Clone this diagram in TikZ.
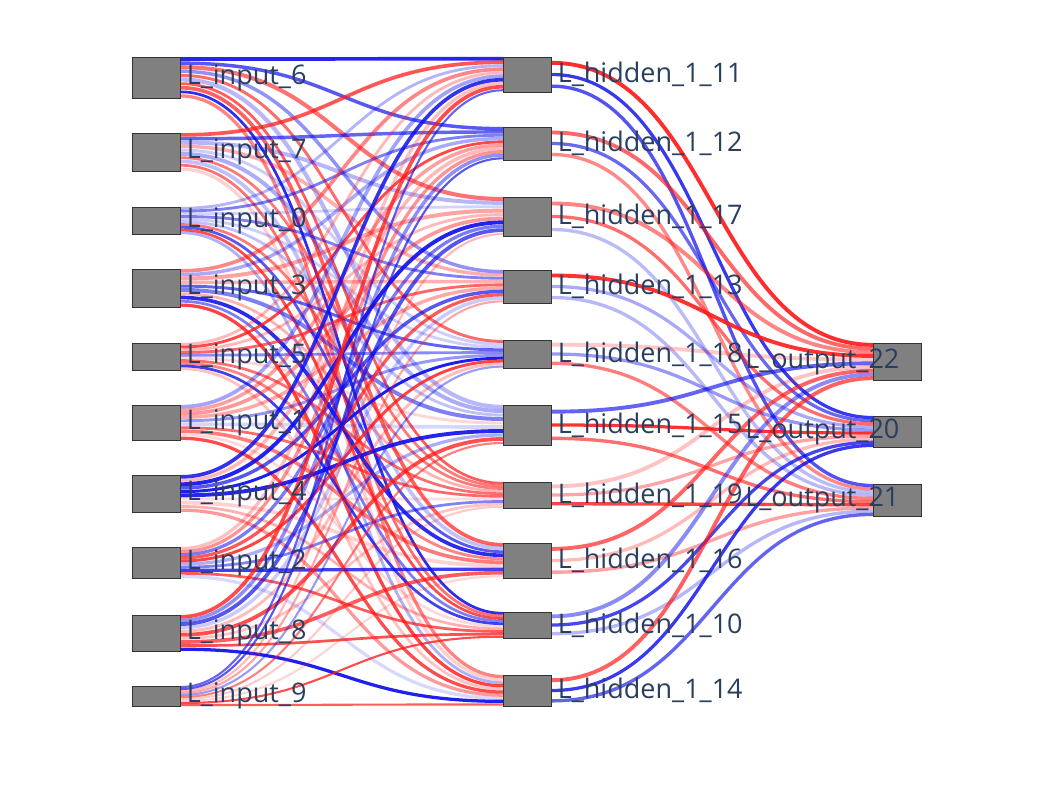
\documentclass[tikz,border=0pt]{standalone}
\usepackage{fontspec}
\setmainfont{Open Sans}
\definecolor{linkred}{RGB}{255,25,25}
\definecolor{linkblue}{RGB}{15,15,235}
\definecolor{lbl}{RGB}{42,63,95}
\definecolor{nodegray}{RGB}{128,128,128}
\pgfdeclarelayer{bg}
\pgfsetlayers{bg,main}
\begin{document}
\begin{tikzpicture}[x=1pt,y=-1pt,
  snode/.style={draw=black!80,line width=0.6pt,fill=nodegray,minimum width=48pt,inner sep=0pt,anchor=north west,rectangle},
  slabel/.style={anchor=west,text=lbl,font=\fontsize{27}{29}\selectfont,inner sep=0pt,xshift=6pt},
  link/.style={line cap=butt}]
\useasboundingbox (0,0) rectangle (1048,784);
\def\inputs{6/57/41,7/133/38,0/207/27,3/269/38,5/343/27,1/405/35,4/475/37,2/547/31,8/615/36,9/686/20}
\def\hiddens{11/57/35,12/127/33,17/197/39,13/270/33,18/340/28,15/405/40,19/482/26,16/543/35,10/612/26,14/675/31}
\def\outputs{22/343/37,20/416/31,21/484/32}
\foreach \i/\t/\h in \inputs {
  \node[snode,minimum height=\h pt] (in\i) at (132,\t) {};
}
\foreach \i/\t/\h in \hiddens {
  \node[snode,minimum height=\h pt] (hid\i) at (503,\t) {};
}
\foreach \i/\t/\h in \outputs {
  \node[snode,minimum height=\h pt] (out\i) at (873,\t) {};
}
\pgfmathsetseed{11}
\begin{pgfonlayer}{bg}
\foreach \i/\it/\ih [count=\ii from 0] in \inputs {
  \foreach \j/\jt/\jh [count=\jj from 0] in \hiddens {
    \pgfmathsetmacro\sy{-(\jj+0.5)*\ih/10}
    \pgfmathsetmacro\ty{-(\ii+0.5)*\jh/10}
    \pgfmathsetmacro\w{min(\ih,\jh)/10*1.05}
    \pgfmathrandominteger{\c}{0}{1}
    \pgfmathsetmacro\op{0.15+0.8*rnd}
    \ifnum\c=0 \def\col{linkred}\else\def\col{linkblue}\fi
    \draw[link,line width=\w pt,draw=\col,draw opacity=\op]
      ([yshift=\sy pt]in\i.north east) .. controls +(160,0) and +(-160,0) .. ([yshift=\ty pt]hid\j.north west);
  }
}
\foreach \i/\it/\ih [count=\ii from 0] in \hiddens {
  \foreach \j/\jt/\jh [count=\jj from 0] in \outputs {
    \pgfmathsetmacro\sy{-(\jj+0.5)*\ih/3}
    \pgfmathsetmacro\ty{-(\ii+0.5)*\jh/10}
    \pgfmathsetmacro\w{\jh/10*1.05}
    \pgfmathrandominteger{\c}{0}{1}
    \pgfmathsetmacro\op{0.2+0.75*rnd}
    \ifnum\c=0 \def\col{linkred}\else\def\col{linkblue}\fi
    \draw[link,line width=\w pt,draw=\col,draw opacity=\op]
      ([yshift=\sy pt]hid\i.north east) .. controls +(160,0) and +(-160,0) .. ([yshift=\ty pt]out\j.north west);
  }
}
\end{pgfonlayer}
\foreach \i/\t/\h in \inputs {
  \node[slabel] (lin\i) at (in\i.east) {L\_input\_\i};
}
\foreach \i/\t/\h in \hiddens {
  \node[slabel] (lhid\i) at (hid\i.east) {L\_hidden\_1\_\i};
}
\foreach \i/\t/\h in \outputs {
  \node[slabel,anchor=east,xshift=-28pt] (lout\i) at (out\i.east) {L\_output\_\i};
}
\end{tikzpicture}
\end{document}
